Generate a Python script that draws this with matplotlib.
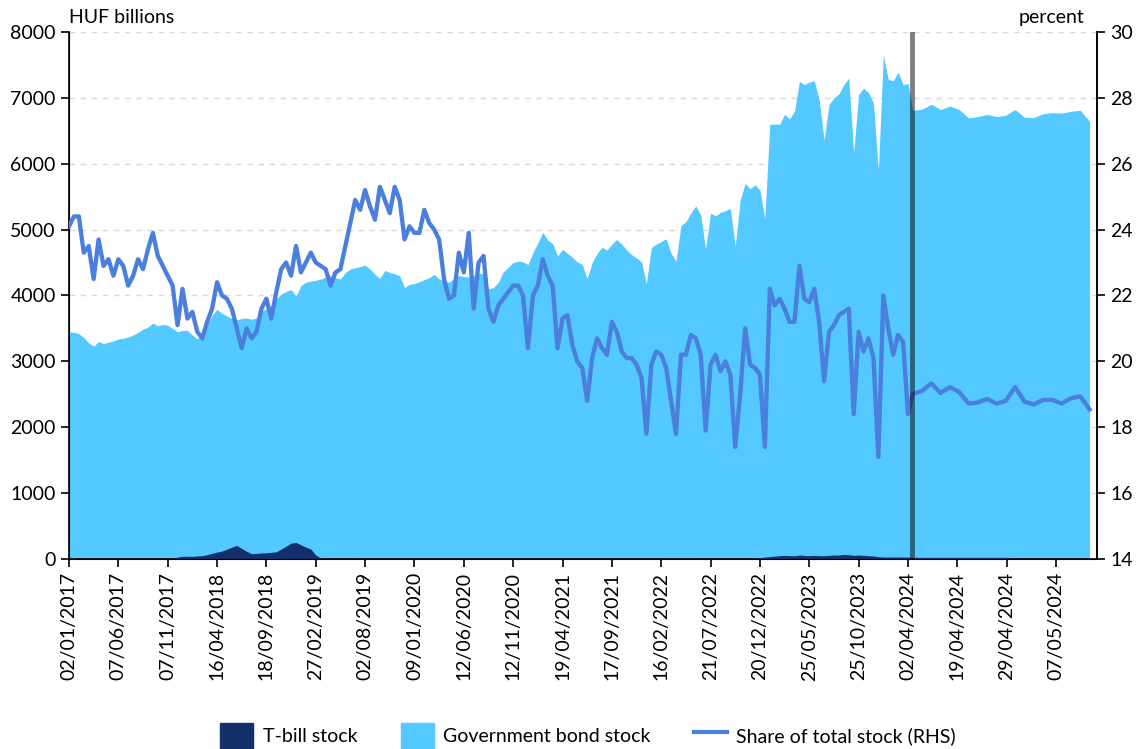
import numpy as np
import matplotlib
matplotlib.use("Agg")
import matplotlib.pyplot as plt
from matplotlib.patches import Patch
from matplotlib.lines import Line2D

plt.rcParams['font.family'] = ['Lato', 'DejaVu Sans']

# x-axis labels (one every label interval)
tick_labels = ['02/01/2017', '07/06/2017', '07/11/2017', '16/04/2018', '18/09/2018',
               '27/02/2019', '02/08/2019', '09/01/2020', '12/06/2020', '12/11/2020',
               '19/04/2021', '17/09/2021', '16/02/2022', '21/07/2022', '20/12/2022',
               '25/05/2023', '25/10/2023', '02/04/2024', '19/04/2024', '29/04/2024',
               '07/05/2024']

# 2017 - early April 2024, 10 readings per label interval
bond_pre = [3450, 3440, 3420, 3360, 3280, 3230, 3300, 3270, 3290, 3310,
            3340, 3350, 3370, 3400, 3440, 3490, 3520, 3580, 3540, 3560,
            3550, 3500, 3450, 3470, 3470, 3400, 3340, 3400, 3550, 3700,
            3790, 3730, 3690, 3650, 3630, 3650, 3660, 3640, 3660, 3760,
            3800, 3850, 3950, 4020, 4060, 4090, 3990, 4150, 4200, 4220,
            4230, 4250, 4280, 4300, 4270, 4250, 4350, 4400, 4420, 4440,
            4460, 4400, 4320, 4260, 4380, 4350, 4330, 4300, 4120, 4170,
            4180, 4210, 4240, 4270, 4320, 4250, 4220, 4200, 4260, 4300,
            4290, 4280, 4300, 4340, 4330, 4100, 4120, 4200, 4360, 4430,
            4500, 4520, 4510, 4470, 4650, 4800, 4960, 4840, 4790, 4600,
            4700, 4640, 4580, 4510, 4470, 4260, 4500, 4640, 4730, 4690,
            4780, 4850, 4780, 4690, 4620, 4570, 4510, 4180, 4730, 4780,
            4820, 4860, 4640, 4520, 5060, 5120, 5250, 5360, 5220, 4700,
            5250, 5210, 5260, 5290, 5320, 4750, 5450, 5700, 5620, 5680,
            5600, 5160, 6600, 6600, 6600, 6750, 6680, 6800, 7250, 7200,
            7240, 7260, 6970, 6360, 6900, 7000, 7060, 7200, 7300, 6170,
            7050, 7150, 7080, 6920, 5900, 7650, 7280, 7260, 7390, 7200,
            7220]

tbill_pre = [3, 3, 3, 3, 3, 3, 3, 3, 3, 3,
             3, 3, 3, 3, 3, 3, 3, 3, 3, 3,
             3, 3, 30, 40, 42, 40, 45, 50, 65, 85,
             105, 120, 150, 180, 205, 160, 115, 80, 85, 90,
             95, 100, 110, 150, 195, 240, 250, 215, 180, 150,
             60, 15, 8, 3, 3, 3, 3, 5, 10, 5,
             3, 3, 3, 3, 3, 3, 3, 3, 3, 3,
             3, 3, 3, 3, 3, 3, 3, 3, 3, 3,
             3, 3, 3, 3, 3, 3, 3, 3, 3, 3,
             3, 3, 3, 3, 3, 3, 3, 3, 3, 3,
             3, 3, 3, 3, 3, 3, 3, 3, 3, 3,
             3, 3, 3, 3, 3, 3, 3, 3, 3, 3,
             3, 8, 8, 8, 8, 8, 8, 3, 3, 3,
             3, 3, 3, 3, 3, 3, 3, 3, 3, 10,
             20, 30, 35, 45, 50, 55, 50, 50, 60, 55,
             50, 55, 50, 50, 55, 60, 60, 70, 65, 55,
             60, 55, 50, 45, 35, 30, 30, 30, 30, 30,
             30]

share_pre = [24.1, 24.4, 24.4, 23.3, 23.5, 22.5, 23.7, 22.9, 23.1, 22.6,
             23.1, 22.9, 22.3, 22.6, 23.1, 22.8, 23.4, 23.9, 23.2, 22.9,
             22.6, 22.3, 21.1, 22.2, 21.3, 21.5, 20.9, 20.7, 21.2, 21.6,
             22.4, 22.0, 21.9, 21.6, 21.0, 20.4, 21.0, 20.7, 20.9, 21.6,
             21.9, 21.3, 22.1, 22.8, 23.0, 22.6, 23.5, 22.7, 23.0, 23.3,
             23.0, 22.9, 22.8, 22.3, 22.7, 22.8, 23.5, 24.2, 24.9, 24.6,
             25.2, 24.7, 24.3, 25.3, 24.9, 24.5, 25.3, 24.9, 23.7, 24.1,
             23.9, 23.9, 24.6, 24.2, 24.0, 23.7, 22.5, 21.9, 22.0, 23.3,
             22.7, 23.9, 21.6, 23.0, 23.2, 21.6, 21.2, 21.7, 21.9, 22.1,
             22.3, 22.3, 22.0, 20.4, 22.0, 22.3, 23.1, 22.6, 22.3, 20.4,
             21.3, 21.4, 20.5, 20.0, 19.8, 18.8, 20.1, 20.7, 20.4, 20.2,
             21.2, 20.9, 20.3, 20.1, 20.1, 19.9, 19.5, 17.8, 19.9, 20.3,
             20.2, 19.8, 18.8, 17.8, 20.2, 20.2, 20.8, 20.7, 20.2, 17.9,
             19.9, 20.2, 19.7, 20.0, 19.6, 17.4, 19.0, 21.0, 19.9, 19.8,
             19.6, 17.4, 22.2, 21.7, 21.9, 21.6, 21.2, 21.2, 22.9, 21.9,
             21.8, 22.2, 21.2, 19.4, 20.9, 21.1, 21.4, 21.5, 21.6, 18.4,
             20.9, 20.3, 20.7, 20.1, 17.1, 22.0, 21.0, 20.2, 20.8, 20.6,
             18.4]

# April-May 2024 section
bond_post = [6812, 6828, 6903, 6823, 6876, 6823, 6695, 6716, 6748, 6716,
             6737, 6823, 6705, 6700, 6759, 6775, 6769, 6796, 6812, 6642]
tbill_post = [25, 25, 25, 25, 25, 25, 25, 25, 25, 25,
              25, 0, 0, 0, 0, 0, 0, 0, 0, 0]
share_post = [19.01, 19.10, 19.33, 19.04, 19.22, 19.07, 18.72, 18.75, 18.86, 18.72,
              18.80, 19.22, 18.78, 18.69, 18.83, 18.83, 18.72, 18.88, 18.94, 18.54]

PRE_PER_TICK = 10
POST_PER_TICK = 5.3
brk = tick_labels.index('02/04/2024')

x_pre = np.arange(len(bond_pre)) / PRE_PER_TICK
x_post = brk + (np.arange(len(bond_post)) + 0.5) / POST_PER_TICK
x = np.concatenate([x_pre, x_post])
bond = np.array(bond_pre + bond_post)
tbill = np.array(tbill_pre + tbill_post)
share = np.array(share_pre + share_post)

BOND_C = '#53C9FF'
TBILL_C = '#14306A'
LINE_C = '#4A7FDE'
FS = 14

fig = plt.figure(figsize=(11.4, 7.49), dpi=100)
ax = fig.add_axes([0.0605, 0.2537, 0.9018, 0.7036])

ax.fill_between(x, 0, bond, color=BOND_C, lw=0, zorder=2)
ax.fill_between(x, 0, tbill, color=TBILL_C, lw=0, zorder=3)

ax.set_xlim(0, 20.83)
ax.set_ylim(0, 8000)
ax.set_yticks(range(0, 8001, 1000))
ax.set_xticks(range(len(tick_labels)))
ax.set_xticklabels(tick_labels, rotation=90)
ax.grid(axis='y', color='#d9d9d9', linestyle=(0, (4, 4)), lw=1)
ax.set_axisbelow(True)
ax.tick_params(labelsize=FS, length=6, width=1.2, direction='out')
ax.spines['top'].set_visible(False)
for s in ['left', 'bottom', 'right']:
    ax.spines[s].set_linewidth(1.2)

ax2 = ax.twinx()
ax2.plot(x, share, color=LINE_C, lw=3.1, zorder=4)
ax2.axvline(x_post[0] - 0.02, color='black', alpha=0.5, lw=3.5, zorder=5)
ax2.set_ylim(14, 30)
ax2.set_yticks(range(14, 31, 2))
ax2.tick_params(labelsize=FS, length=6, width=1.2, direction='out')
ax2.spines['top'].set_visible(False)
ax2.spines['right'].set_linewidth(1.2)

ax.text(0.0, 1.012, 'HUF billions', transform=ax.transAxes, ha='left', va='bottom', fontsize=FS)
ax.text(0.988, 1.012, 'percent', transform=ax.transAxes, ha='right', va='bottom', fontsize=FS)

handles = [Patch(color=TBILL_C), Patch(color=BOND_C), Line2D([], [], color=LINE_C, lw=3)]
labels = ['T-bill stock', 'Government bond stock', 'Share of total stock (RHS)']
fig.legend(handles, labels, loc='lower center', bbox_to_anchor=(0.516, 0.0), ncol=3,
           frameon=False, fontsize=FS, handlelength=1.7, handleheight=1.7,
           columnspacing=2.2, handletextpad=0.5, borderaxespad=0.0, borderpad=0.0)

fig.savefig('out.png', dpi=100)
